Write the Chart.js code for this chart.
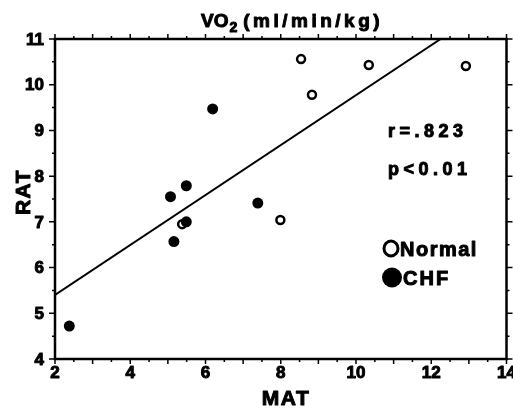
<!DOCTYPE html>
<html lang="en">
<head>
  <meta charset="UTF-8" />
  <title>RAT vs MAT</title>
  <script src="https://cdn.jsdelivr.net/npm/chart.js"></script>
  <style>
    body { margin: 0; background: #fff; }
    .wrap { width: 513px; height: 408px; position: relative; }
  </style>
</head>
<body>
  <div class="wrap"><canvas id="vo2Chart"></canvas></div>

  <script>
    // values
    const normalMat = [5.38, 7.99, 8.54, 8.83, 10.34, 12.92];
    const normalRat = [6.95, 7.04, 10.56, 9.78, 10.43, 10.41];
    const chfMat = [2.38, 5.07, 5.16, 5.49, 5.49, 6.19, 7.39];
    const chfRat = [4.72, 7.55, 6.57, 7.79, 7.00, 9.47, 7.41];
    const fitMat = [2, 12.25];
    const fitRat = [5.4, 11];
    const xTickLabels = [2, 4, 6, 8, 10, 12, 14];
    const yTickLabels = [4, 5, 6, 7, 8, 9, 10, 11];
    const stats = ['r=.823', 'p<0.01'];

    const FONT = "'Liberation Sans', Arial, sans-serif";
    Chart.defaults.font.family = FONT;
    Chart.defaults.color = '#000';

    const toPoints = (xs, ys) => xs.map((x, i) => ({ x, y: ys[i] }));

    // heavy text: fill plus a thin stroke, like the scanned print
    function heavyText(ctx, text, x, y) {
      ctx.fillText(text, x, y);
      ctx.strokeText(text, x, y);
    }

    // frame, ticks on all four sides, tick labels, title, stats and legend
    const decorations = {
      id: 'decorations',
      afterDatasetsDraw(chart) {
        const { ctx, chartArea: a, scales } = chart;
        ctx.save();
        ctx.strokeStyle = '#000';
        ctx.fillStyle = '#000';
        ctx.lineWidth = 2.5;
        ctx.strokeRect(a.left, a.top, a.right - a.left, a.bottom - a.top);

        ctx.lineWidth = 1.5;
        ctx.beginPath();
        scales.x.ticks.forEach(t => {
          const px = scales.x.getPixelForValue(t.value);
          const len = Number.isInteger(t.value) ? 5 : 3;
          ctx.moveTo(px, a.bottom); ctx.lineTo(px, a.bottom + len);
          ctx.moveTo(px, a.top); ctx.lineTo(px, a.top - len);
        });
        scales.y.ticks.forEach(t => {
          const py = scales.y.getPixelForValue(t.value);
          const len = Number.isInteger(t.value) ? 6 : 3;
          ctx.moveTo(a.left, py); ctx.lineTo(a.left - len, py);
          ctx.moveTo(a.right, py); ctx.lineTo(a.right + len, py);
        });
        ctx.stroke();

        ctx.lineWidth = 1;
        ctx.lineJoin = 'round';

        // tick labels
        ctx.font = `bold 17px ${FONT}`;
        ctx.textAlign = 'right';
        ctx.textBaseline = 'middle';
        yTickLabels.forEach(v => heavyText(ctx, String(v), a.left - 11, scales.y.getPixelForValue(v) + 1));
        ctx.textAlign = 'center';
        ctx.textBaseline = 'top';
        xTickLabels.forEach(v => heavyText(ctx, String(v), scales.x.getPixelForValue(v), a.bottom + 6));

        ctx.textBaseline = 'alphabetic';
        ctx.textAlign = 'left';

        // title with subscript
        ctx.font = `bold 19px ${FONT}`;
        let x = 201;
        heavyText(ctx, 'VO', x, 27);
        x += ctx.measureText('VO').width + 1;
        ctx.font = `bold 14px ${FONT}`;
        heavyText(ctx, '2', x, 32);
        x += ctx.measureText('2').width + 6;
        ctx.font = `bold 19px ${FONT}`;
        ctx.letterSpacing = '3.5px';
        heavyText(ctx, '(ml/min/kg)', x, 27);

        // r and p
        ctx.font = `bold 18px ${FONT}`;
        ctx.letterSpacing = '4.5px';
        heavyText(ctx, stats[0], 388, 137);
        heavyText(ctx, stats[1], 388, 175);

        // legend
        const ds = chart.data.datasets;
        ctx.lineWidth = 3;
        ctx.beginPath();
        ctx.ellipse(391, 248.5, 7, 7.5, 0, 0, Math.PI * 2);
        ctx.stroke();
        ctx.beginPath();
        ctx.arc(392, 277.5, 10, 0, Math.PI * 2);
        ctx.fill();
        ctx.lineWidth = 1;
        ctx.font = `bold 20px ${FONT}`;
        ctx.letterSpacing = '1.5px';
        heavyText(ctx, ds[1].label, 400, 256);
        ctx.letterSpacing = '2px';
        heavyText(ctx, ds[0].label, 403, 285);

        // axis titles
        ctx.letterSpacing = '1.5px';
        ctx.font = `bold 21px ${FONT}`;
        ctx.textAlign = 'center';
        heavyText(ctx, 'MAT', 286, 405);
        ctx.translate(30, 192);
        ctx.rotate(-Math.PI / 2);
        heavyText(ctx, 'RAT', 0, 0);
        ctx.restore();
      }
    };

    new Chart(document.getElementById('vo2Chart'), {
      type: 'scatter',
      data: {
        datasets: [
          {
            label: 'CHF',
            data: toPoints(chfMat, chfRat),
            pointStyle: 'circle',
            pointRadius: 5.5,
            pointBorderWidth: 0,
            backgroundColor: '#000',
            borderColor: '#000'
          },
          {
            label: 'Normal',
            data: toPoints(normalMat, normalRat),
            pointStyle: 'circle',
            pointRadius: 4,
            pointBorderWidth: 2.5,
            backgroundColor: '#fff',
            borderColor: '#000'
          },
          {
            type: 'line',
            label: 'fit',
            data: toPoints(fitMat, fitRat),
            borderColor: '#000',
            borderWidth: 2,
            pointRadius: 0,
            fill: false
          }
        ]
      },
      options: {
        responsive: true,
        maintainAspectRatio: false,
        animation: false,
        events: [],
        layout: { padding: { top: 39, right: 5, left: 0, bottom: 0 } },
        plugins: {
          legend: { display: false },
          tooltip: { enabled: false }
        },
        scales: {
          x: {
            type: 'linear',
            min: 2,
            max: 14,
            afterFit: s => { s.height = 49; },
            grid: { display: false },
            border: { display: false },
            ticks: { display: false, stepSize: 0.5, autoSkip: false }
          },
          y: {
            min: 4,
            max: 11,
            afterFit: s => { s.width = 55; },
            grid: { display: false },
            border: { display: false },
            ticks: { display: false, stepSize: 0.5, autoSkip: false }
          }
        }
      },
      plugins: [decorations]
    });
  </script>
</body>
</html>
